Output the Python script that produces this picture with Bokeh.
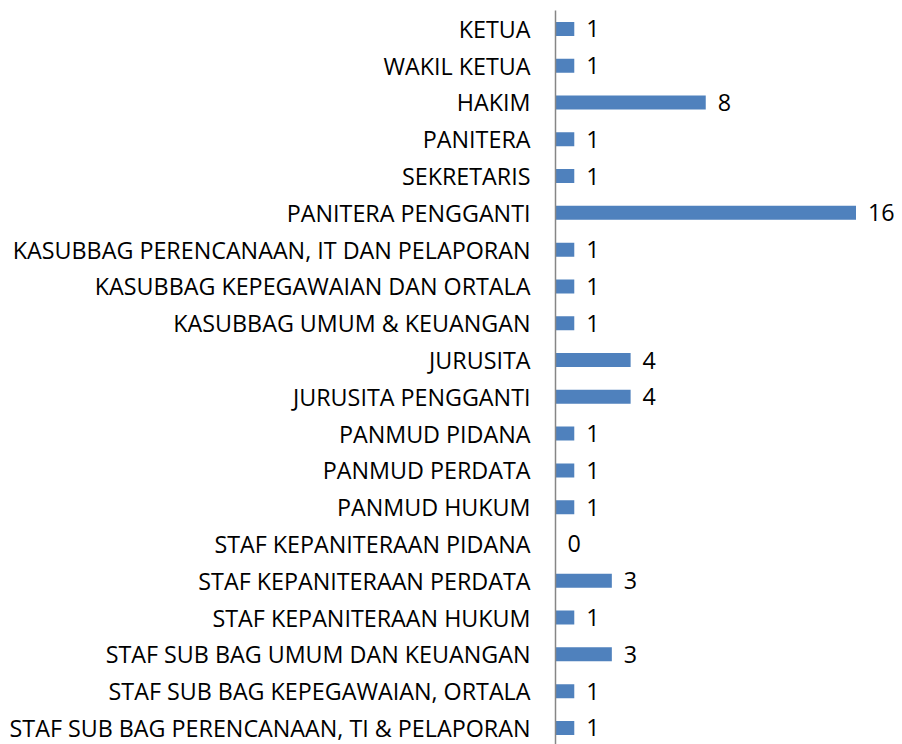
from bokeh.plotting import figure
from bokeh.models import Range1d, FixedTicker, ColumnDataSource
from bokeh.core.properties import value
from bokeh.embed import file_html
from bokeh.resources import INLINE

categories = [
    "KETUA", "WAKIL KETUA", "HAKIM", "PANITERA", "SEKRETARIS",
    "PANITERA PENGGANTI", "KASUBBAG PERENCANAAN, IT DAN PELAPORAN",
    "KASUBBAG KEPEGAWAIAN DAN ORTALA", "KASUBBAG UMUM & KEUANGAN",
    "JURUSITA", "JURUSITA PENGGANTI", "PANMUD PIDANA", "PANMUD PERDATA",
    "PANMUD HUKUM", "STAF KEPANITERAAN PIDANA", "STAF KEPANITERAAN PERDATA",
    "STAF KEPANITERAAN HUKUM", "STAF SUB BAG UMUM DAN KEUANGAN",
    "STAF SUB BAG KEPEGAWAIAN, ORTALA", "STAF SUB BAG PERENCANAAN, TI & PELAPORAN",
]
values = [1, 1, 8, 1, 1, 16, 1, 1, 1, 4, 4, 1, 1, 1, 0, 3, 1, 3, 1, 1]

idx = list(range(len(categories)))
src = ColumnDataSource(dict(y=idx, v=values, lab=[str(v) for v in values]))

FONT = "Open Sans"
FS = "23.3px"

p = figure(width=894, height=744, output_backend="svg", toolbar_location=None,
           x_range=Range1d(0, 18.05), y_range=Range1d(19.45, -0.5),
           min_border_left=555, min_border_right=0, min_border_top=10,
           min_border_bottom=0)
p.outline_line_color = None
p.grid.visible = False
p.xaxis.visible = False

p.hbar(y="y", right="v", left=0, height=0.38, source=src,
       fill_color="#4F81BD", line_color=None)
p.text(x="v", y="y", text="lab", source=src, x_offset=12,
       text_align="left", text_baseline="middle",
       text_font=value(FONT), text_font_size=FS, text_color="#000000")

ya = p.yaxis[0]
ya.ticker = FixedTicker(ticks=idx)
ya.major_label_overrides = {i: c for i, c in zip(idx, categories)}
ya.major_tick_line_color = None
ya.minor_tick_line_color = None
ya.axis_line_color = "#868686"
ya.axis_line_width = 1.5
ya.major_label_standoff = 19
ya.major_label_text_font = FONT
ya.major_label_text_font_size = FS
ya.major_label_text_color = "#000000"

open("out.html", "w").write(file_html(p, INLINE))
